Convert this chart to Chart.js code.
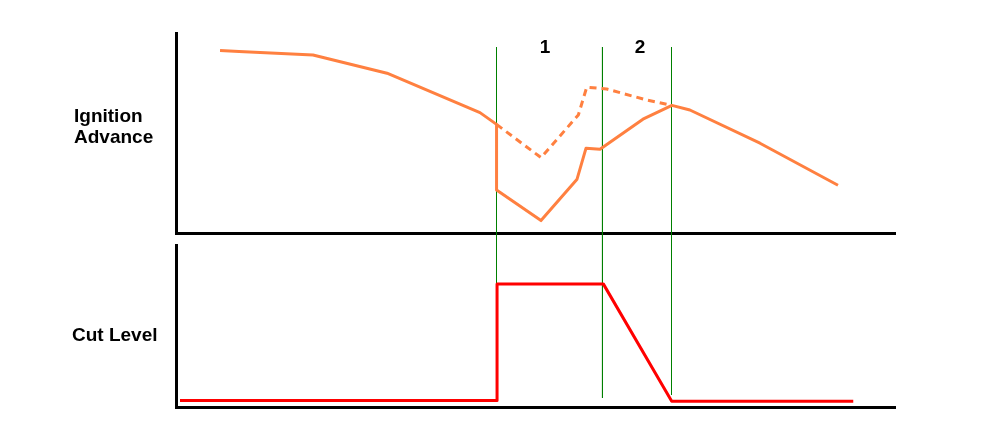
<!DOCTYPE html>
<html>
<head>
<meta charset="utf-8">
<script src="https://cdn.jsdelivr.net/npm/chart.js@4/dist/chart.umd.min.js"></script>
<style>
  html, body { margin: 0; padding: 0; background: #ffffff; }
  #wrap { position: relative; width: 982px; height: 431px; overflow: hidden; background: #fff; }
  canvas { position: absolute; left: 0; }
  #cTop { top: 0; }
  #cBot { top: 240px; }
  .lbl { position: absolute; font-family: "Liberation Sans", Arial, sans-serif; font-weight: bold; font-size: 19px; line-height: 21px; color: #000; white-space: nowrap; }
  .num { width: 20px; text-align: center; }
</style>
</head>
<body>
<div id="wrap">
  <canvas id="cTop" width="982" height="240"></canvas>
  <canvas id="cBot" width="982" height="191"></canvas>
  <div class="lbl" style="left:74px; top:105px;">Ignition<br>Advance</div>
  <div class="lbl" style="left:72px; top:324px;">Cut Level</div>
  <div class="lbl num" id="p1" style="left:535px; top:36px;"></div>
  <div class="lbl num" id="p2" style="left:630px; top:36px;"></div>
</div>
<script>
// ---- data (arbitrary time units on x, arbitrary level units on y) ----
const advanceX      = [4.41, 6.31, 13.72, 21.13, 30.44, 32.1, 32.1, 36.55, 40.16, 41.06, 42.46, 46.76, 49.66, 51.46, 58.48, 66.29];
const advanceY      = [9.12, 9.07, 8.90, 7.99, 6.02, 5.43, 2.15, 0.62, 2.69, 4.24, 4.19, 5.69, 6.38, 6.15, 4.49, 2.39];
const advanceNoCutX = [32.1, 36.55, 40.29, 41.13, 43.13, 47.13, 49.66];
const advanceNoCutY = [5.43, 3.77, 5.90, 7.29, 7.20, 6.65, 6.38];
const cutX          = [0.4, 32.15, 32.15, 42.79, 49.64, 67.82];
const cutY          = [0.40, 0.40, 7.60, 7.60, 0.36, 0.36];
const markerX       = [32.095, 42.705, 49.62];
const markerTopY    = [9.3, 9.3, 9.3];     // top panel upper ends
const markerBotY    = [7.6, 0.56, 0.74];   // bottom panel lower ends
const phaseLabels   = ["1", "2"];

document.getElementById('p1').textContent = phaseLabels[0];
document.getElementById('p2').textContent = phaseLabels[1];

const X_MIN = 0, X_MAX = 72, Y_MIN = 0, Y_MAX = 10;

const pts = (xs, ys) => xs.map((x, i) => ({x: x, y: ys[i]}));

function markerSets(yFrom, yTo) {
  return markerX.map((x, i) => ({
    data: [{x: x, y: yFrom[i]}, {x: x, y: yTo[i]}],
    borderColor: '#008000', borderWidth: 1, pointRadius: 0, clip: false, order: 10
  }));
}

function axes() {
  return {
    x: { type: 'linear', min: X_MIN, max: X_MAX, display: true,
         grid: { display: false, drawTicks: false }, ticks: { display: false },
         border: { display: true, color: '#000', width: 3 } },
    y: { type: 'linear', min: Y_MIN, max: Y_MAX, display: true,
         grid: { display: false, drawTicks: false }, ticks: { display: false },
         border: { display: true, color: '#000', width: 3 } }
  };
}

const common = {
  responsive: false, animation: false,
  plugins: { legend: { display: false }, tooltip: { enabled: false } },
  elements: { line: { tension: 0, borderJoinStyle: 'round' }, point: { radius: 0 } }
};

new Chart(document.getElementById('cTop'), {
  type: 'line',
  data: {
    datasets: [
      { data: pts(advanceX, advanceY), borderColor: '#ff8040', borderWidth: 3, pointRadius: 0, order: 1 },
      { data: pts(advanceNoCutX, advanceNoCutY), borderColor: '#ff8040', borderWidth: 3, borderDash: [7, 5], pointRadius: 0, order: 2 },
      ...markerSets(markerTopY, markerX.map(() => -1))
    ]
  },
  options: Object.assign({}, common, {
    layout: { padding: { left: 176, right: 87, top: 33, bottom: 7 } },
    scales: axes()
  })
});

new Chart(document.getElementById('cBot'), {
  type: 'line',
  data: {
    datasets: [
      { data: pts(cutX, cutY), borderColor: '#ff0000', borderWidth: 3, pointRadius: 0, order: 1 },
      ...markerSets(markerX.map(() => 11), markerBotY)
    ]
  },
  options: Object.assign({}, common, {
    layout: { padding: { left: 176, right: 87, top: 5, bottom: 24 } },
    scales: axes()
  })
});
</script>
</body>
</html>
